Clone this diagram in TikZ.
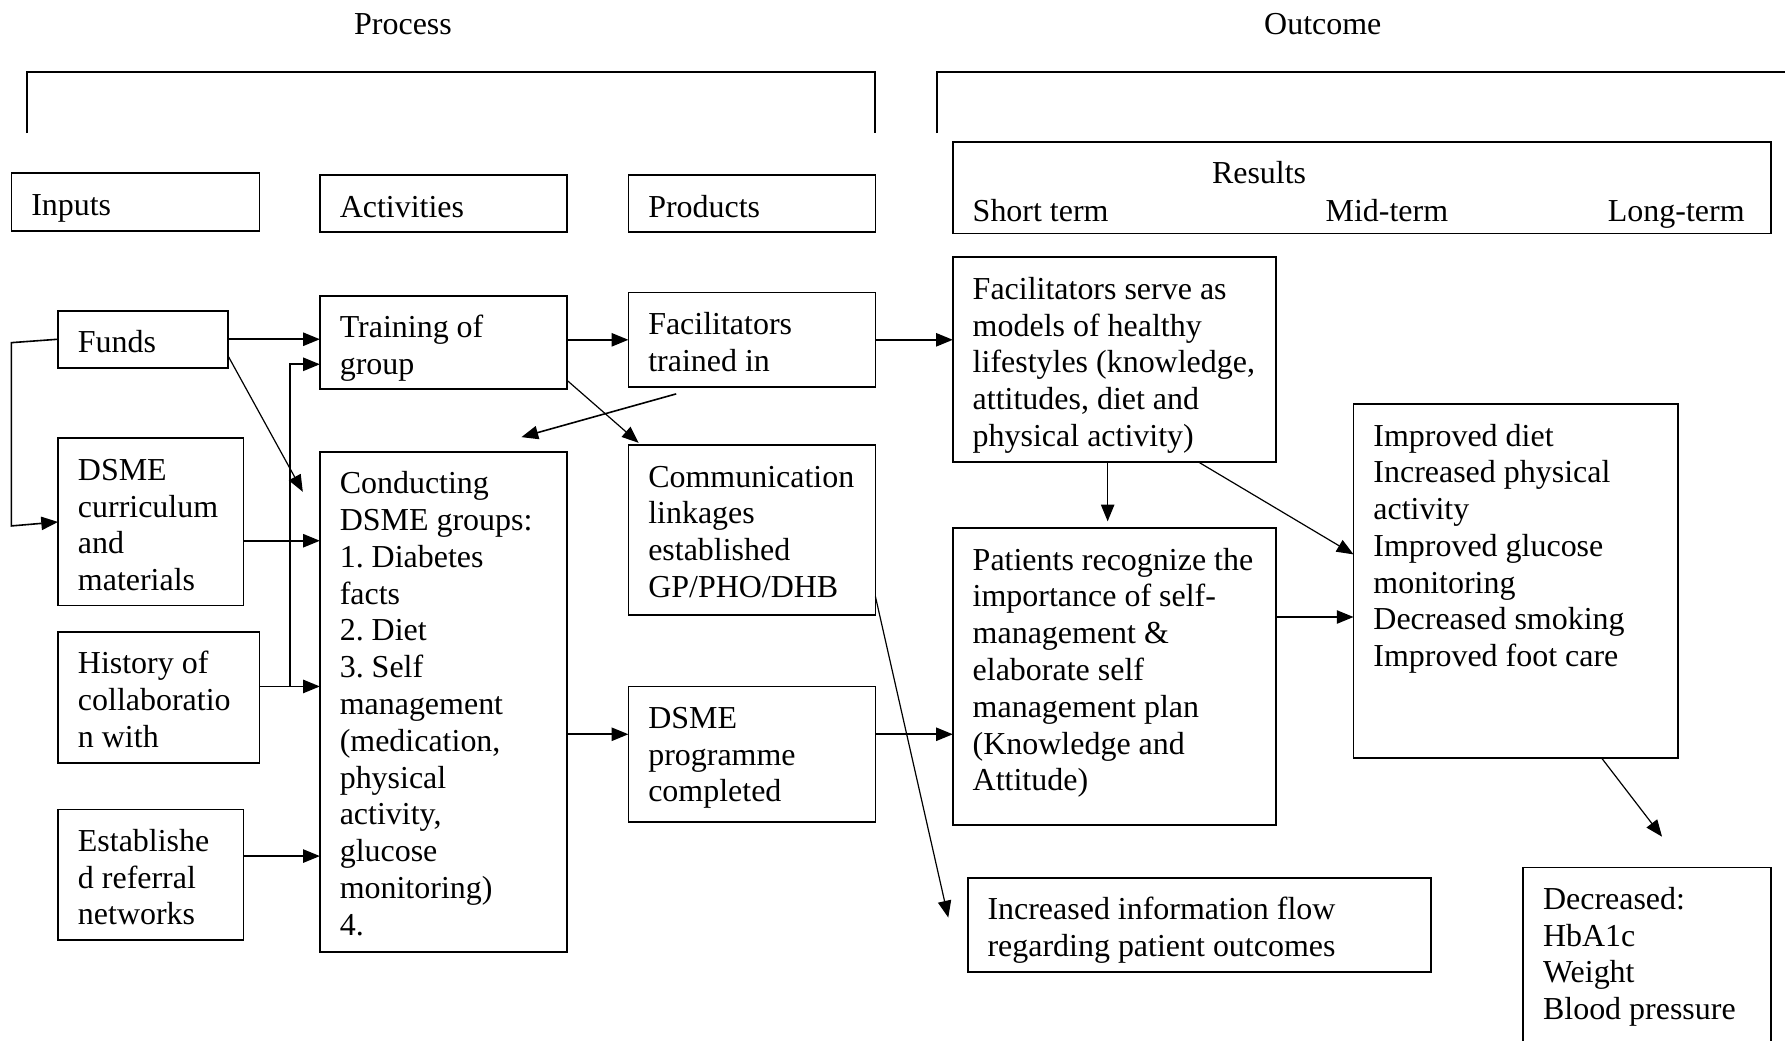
\documentclass[tikz,border=0pt]{standalone}
\usepackage{fontspec}
\setmainfont{Liberation Serif}
\usetikzlibrary{arrows.meta,calc,fit}
\begin{document}
\frenchspacing
\begin{tikzpicture}[x=0.42735pt,y=-0.42735pt,
  box/.style={draw, line width=0.65pt, inner sep=0pt, outer sep=0pt},
  txt/.style={inner sep=0pt, anchor=north west, align=left, yshift=-0.6pt, font=\fontsize{12}{13.8}\selectfont},
  lbl/.style={inner sep=0pt, yshift=-0.6pt, font=\fontsize{12}{13.8}\selectfont},
  arr/.style={line width=0.6pt, -{Triangle[length=6.3pt,width=5pt]}},
  tarr/.style={line width=0.45pt, -{Triangle[length=6.3pt,width=5pt]}},
  brk/.style={line width=0.7pt}]
\useasboundingbox (0,0) rectangle (1568,914);
\clip (0,0) rectangle (1568,914);

% headers
\node[lbl, anchor=base] (process) at (354,29) {Process};
\node[lbl, anchor=base] (outcome) at (1162,29) {Outcome};
\draw[brk] (24,117) |- (769,63) -- (769,117);
\draw[brk] (823,117) |- (1580,63);

% boxes
\node[box, fit={(10,152) (228,203)}] (inputs) {};
\node[box, fit={(281,154) (498,204)}] (activities) {};
\node[box, fit={(552,154) (769,204)}] (products) {};
\node[box, fit={(837,125) (1556,205)}] (results) {};
\node[box, fit={(51,273) (200,323)}] (funds) {};
\node[box, fit={(51,385) (214,532)}] (curric) {};
\node[box, fit={(51,555) (228,670)}] (history) {};
\node[box, fit={(51,711) (214,826)}] (est) {};
\node[box, fit={(281,260) (498,342)}] (training) {};
\node[box, fit={(281,397) (498,836)}] (groups) {};
\node[box, fit={(552,257) (769,340)}] (factrain) {};
\node[box, fit={(552,391) (769,540)}] (comm) {};
\node[box, fit={(552,603) (769,722)}] (prog) {};
\node[box, fit={(837,226) (1121,406)}] (facserve) {};
\node[box, fit={(837,464) (1121,725)}] (patients) {};
\node[box, fit={(1189,355) (1474,666)}] (improved) {};
\node[box, fit={(850,771) (1257,854)}] (info) {};
\node[box, fit={(1338,762) (1556,940)}] (decr) {};

% texts
\node[txt] (t-inputs) at (27,164.4) {\strut Inputs};
\node[txt] (t-activities) at (298,166.4) {\strut Activities};
\node[txt] (t-products) at (569,166.4) {\strut Products};
\node[lbl, anchor=base] (t-results) at (1106,160) {Results};
\node[lbl, anchor=base west] (t-short) at (854,193) {Short term};
\node[lbl, anchor=base west] (t-mid) at (1164,193) {Mid-term};
\node[lbl, anchor=base west] (t-long) at (1412,193) {Long-term};
\node[txt] (t-funds) at (68,285.4) {\strut Funds};
\node[txt] (t-curric) at (68,397.4) {\strut DSME\\curriculum\\and\\materials};
\node[txt] (t-history) at (68,567.4) {\strut History of\\collaboratio\\n with};
\node[txt] (t-est) at (68,723.4) {\strut Establishe\\d referral\\networks};
\node[txt] (t-training) at (298,272.4) {\strut Training of\\group};
\node[txt] (t-groups) at (298,409.4) {\strut Conducting\\DSME groups:\\1. Diabetes\\facts\\2. Diet\\3. Self\\management\\(medication,\\physical\\activity,\\glucose\\monitoring)\\4.};
\node[txt] (t-factrain) at (569,269.4) {\strut Facilitators\\trained in};
\node[txt] (t-comm) at (569,403.4) {\strut Communication\\linkages\\established\\GP/PHO/DHB};
\node[txt] (t-prog) at (569,615.4) {\strut DSME\\programme\\completed};
\node[txt] (t-facserve) at (854,238.4) {\strut Facilitators serve as\\models of healthy\\lifestyles (knowledge,\\attitudes, diet and\\physical activity)};
\node[txt] (t-patients) at (854,476.4) {\strut Patients recognize the\\importance of self-\\management \&\\elaborate self\\management plan\\(Knowledge and\\Attitude)};
\node[txt] (t-improved) at (1206,367.4) {\strut Improved diet\\Increased physical\\activity\\Improved glucose\\monitoring\\Decreased smoking\\Improved foot care};
\node[txt] (t-info) at (867,783.4) {\strut Increased information flow\\regarding patient outcomes};
\node[txt] (t-decr) at (1355,774.4) {\strut Decreased:\\HbA1c\\Weight\\Blood pressure};

% connectors
\draw[arr] (funds.east) -- (funds.east -| training.west);
\draw[arr] (training.east |- factrain.west) -- (factrain.west);
\draw[arr] (factrain.east) -- (factrain.east -| facserve.west);
\draw[arr] (funds.west) -- (10,301) -- (10,462) -- (curric.west);
\draw[tarr] ($(funds.south east)+(0,-11)$) -- ($(groups.north west)+(-15,35)$);
\coordinate (hj) at ($(history.north east)+(0,48)$);
\draw[arr] (hj) -- (hj -| groups.west);
\coordinate (jn) at ($(hj)!0.5!(hj -| groups.west)$);
\draw[arr] (jn) |- ($(training.south west)+(0,-22)$);
\coordinate (cj) at ($(curric.south east)+(0,-57)$);
\draw[arr] (cj) -- (cj -| groups.west);
\coordinate (ej) at ($(est.north east)+(0,41)$);
\draw[arr] (ej) -- (ej -| groups.west);
\coordinate (fa1) at ($(factrain.south west)+(42,6)$);
\coordinate (fa2) at ($(groups.north)+(68.5,-13)$);
\draw[arr] (fa1) -- (fa2);
\draw[tarr] ($(training.south east)+(0,-8)$) -- ($(comm.north west)+(9,-2)$);
\coordinate (pj) at ($(prog.north west)+(0,42)$);
\draw[arr] (pj -| groups.east) -- (pj);
\coordinate (pk) at ($(prog.north east)+(0,42)$);
\draw[arr] (pk) -- (pk -| patients.west);
\draw[tarr] ($(comm.south east)+(0,-16)$) -- ($(info.north west)+(-17,35)$);
\draw[arr] ($(facserve.south)+(-6,0)$) -- ($(patients.north)+(-6,-6)$);
\draw[tarr] ($(facserve.south east)+(-68,0)$) -- ($(improved.north west)+(0,132)$);
\coordinate (ij) at ($(patients.north east)+(0,78)$);
\draw[arr] (ij) -- (ij -| improved.west);
\draw[tarr] ($(improved.south east)+(-67,0)$) -- ($(decr.north west)+(122,-27)$);
\end{tikzpicture}
\end{document}
